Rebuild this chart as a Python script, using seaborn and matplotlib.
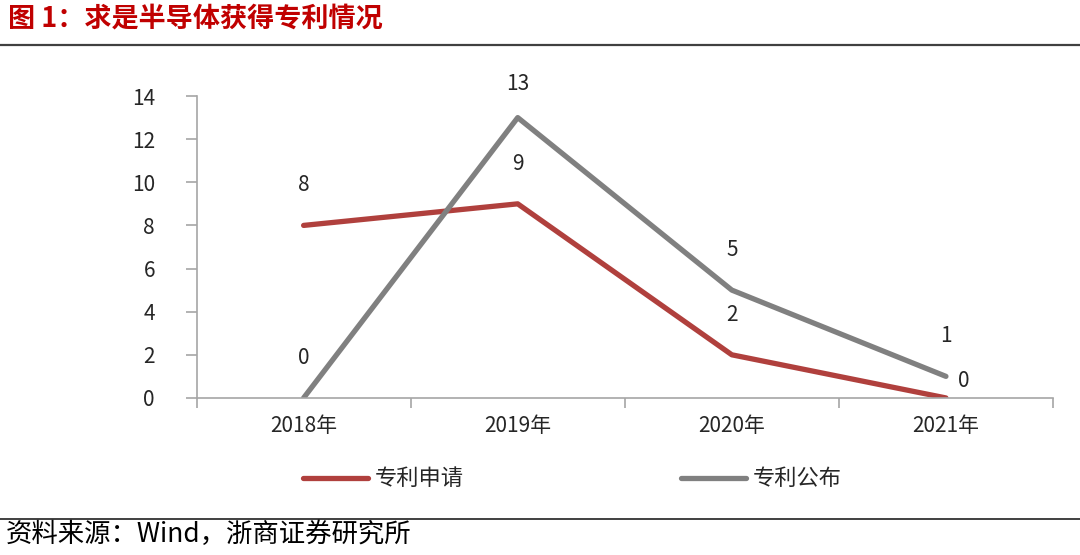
import matplotlib
matplotlib.use("Agg")
import matplotlib.pyplot as plt
import matplotlib.lines as mlines
import seaborn as sns
import pandas as pd

# data
years = ["2018年", "2019年", "2020年", "2021年"]
apply_counts = [8, 9, 2, 0]    # 专利申请
publish_counts = [0, 13, 5, 1]  # 专利公布
series_names = ["专利申请", "专利公布"]

df = pd.DataFrame({
    "year": years * 2,
    "count": apply_counts + publish_counts,
    "series": [series_names[0]] * 4 + [series_names[1]] * 4,
})

sns.set_style("white")
plt.rcParams['font.family'] = ['Noto Sans CJK SC', 'DejaVu Sans']

red = "#B0403D"
gray = "#808080"
axis_gray = "#A6A6A6"

fig = plt.figure(figsize=(10.8, 5.55), dpi=100)
ax = fig.add_axes([0.182, 0.283, 0.793, 0.544])

sns.lineplot(data=df, x="year", y="count", hue="series",
             palette=[red, gray], linewidth=3.8, sort=False,
             legend=False, ax=ax)
for ln in ax.get_lines():
    ln.set_solid_capstyle("round")

ax.set_xlim(-0.5, 3.5)
ax.set_ylim(0, 14)
ax.set_yticks(range(0, 15, 2))
ax.set_xlabel("")
ax.set_ylabel("")

# category boundary ticks on the x axis
ax.set_xticks([-0.5, 0.5, 1.5, 2.5, 3.5])
ax.set_xticklabels([])
ax.set_xticks(range(4), minor=True)
ax.set_xticklabels(years, minor=True, fontsize=15)
ax.tick_params(axis="x", which="minor", bottom=False, length=0, pad=12)
ax.tick_params(axis="x", which="major", bottom=True, direction="out",
               length=7, color=axis_gray, width=1.2)
ax.tick_params(axis="y", left=True, direction="out", length=8, color=axis_gray,
               width=1.2, labelsize=15, pad=22)

for s in ["top", "right"]:
    ax.spines[s].set_visible(False)
for s in ["left", "bottom"]:
    ax.spines[s].set_color(axis_gray)
    ax.spines[s].set_linewidth(1.2)

# value labels
for i, v in enumerate(apply_counts):
    if i == 3:
        ax.annotate(str(v), (i, v), xytext=(13, 12), textcoords="offset points",
                    ha="center", va="center", fontsize=15)
    else:
        ax.annotate(str(v), (i, v), xytext=(0, 29), textcoords="offset points",
                    ha="center", va="center", fontsize=15)
for i, v in enumerate(publish_counts):
    off = 24 if v == 13 else 29
    ax.annotate(str(v), (i, v), xytext=(0, off), textcoords="offset points",
                ha="center", va="center", fontsize=15)

# legend
handles = [mlines.Line2D([], [], color=red, linewidth=3.8, solid_capstyle="round"),
           mlines.Line2D([], [], color=gray, linewidth=3.8, solid_capstyle="round")]
fig.legend(handles, series_names, loc="center", bbox_to_anchor=(0.53, 0.137),
           ncol=2, frameon=False, fontsize=16, handlelength=2.9,
           handletextpad=0.3, columnspacing=9.8)

# title and frame lines
fig.text(0.007, 0.967, "图 1：求是半导体获得专利情况", fontsize=19.5, fontweight="bold",
         color="#C00000", ha="left", va="center")
fig.add_artist(mlines.Line2D([0, 1], [0.919, 0.919], color="#404040", linewidth=1.6))
fig.add_artist(mlines.Line2D([0, 1], [0.065, 0.065], color="#202020", linewidth=1.2))
fig.text(0.005, 0.037, "资料来源：Wind，浙商证券研究所", fontsize=19,
         ha="left", va="center", color="#000000")

fig.savefig("out.png", dpi=100)
